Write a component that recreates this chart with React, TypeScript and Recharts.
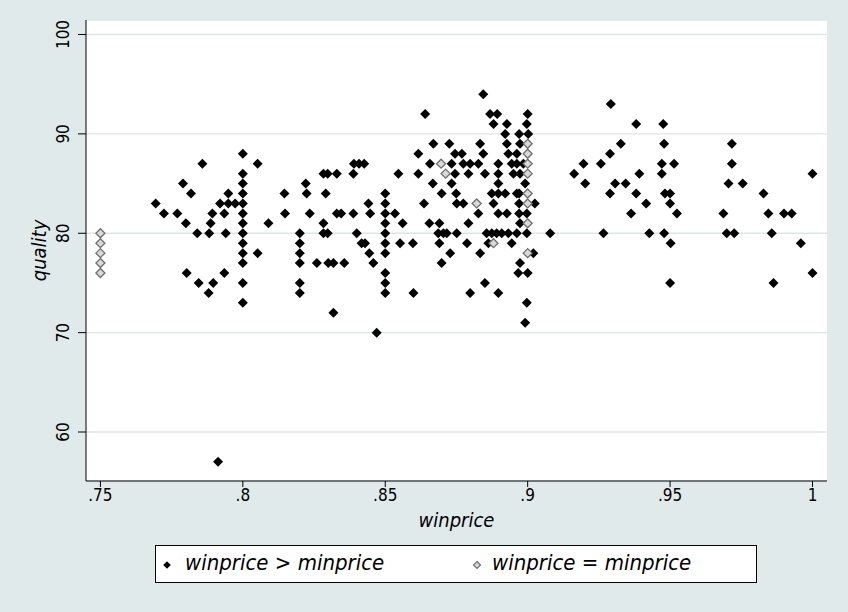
import { ScatterChart, Scatter, XAxis, YAxis, CartesianGrid, Legend } from 'recharts'

const FONT = '"DejaVu Sans Condensed", "DejaVu Sans", sans-serif'
const BG = '#e0eaeb'
const GRID = '#dbe6e9'

const xTicks = [0.75, 0.8, 0.85, 0.9, 0.95, 1]
const yTicks = [60, 70, 80, 90, 100]

// winprice > minprice : [winprice, quality]
const aboveMin: [number, number][] = [
  [0.7858, 87], [0.779, 85], [0.7818, 84], [0.7694, 83], [0.7723, 82], [0.777, 82], [0.78, 81],
  [0.784, 80], [0.7882, 80], [0.7893, 82], [0.7887, 81], [0.7803, 76], [0.7845, 75], [0.7896, 75],
  [0.788, 74], [0.7913, 57],
  [0.792, 83], [0.7949, 83], [0.7973, 83], [0.7949, 84], [0.7935, 82], [0.794, 80], [0.7935, 76],
  [0.8, 88], [0.8, 86], [0.8, 85], [0.8, 84], [0.8, 83], [0.8, 82], [0.8, 81], [0.8, 80], [0.8, 79],
  [0.8, 78], [0.8, 77], [0.8, 75], [0.8, 73],
  [0.8052, 87], [0.8052, 78], [0.809, 81], [0.8146, 84], [0.8148, 82], [0.8221, 85], [0.8224, 84],
  [0.8235, 82], [0.82, 80], [0.82, 79], [0.82, 78], [0.82, 77], [0.82, 75], [0.82, 74],
  [0.826, 77], [0.83, 77], [0.8318, 77], [0.8356, 77], [0.8283, 86], [0.8298, 86], [0.833, 86],
  [0.8291, 84], [0.8283, 81], [0.8283, 80], [0.8298, 80], [0.833, 82], [0.8345, 82], [0.8318, 72],
  [0.8388, 82], [0.8388, 86], [0.839, 87], [0.8408, 87], [0.8426, 87], [0.8441, 83], [0.8447, 82],
  [0.84, 80], [0.8417, 79], [0.8429, 79], [0.8444, 78], [0.8458, 77],
  [0.85, 84], [0.85, 83], [0.85, 82], [0.85, 81], [0.85, 80], [0.85, 79], [0.85, 78], [0.85, 76],
  [0.85, 75], [0.85, 74], [0.847, 70],
  [0.8534, 82], [0.8561, 81], [0.8552, 79], [0.8597, 79], [0.8599, 74], [0.8546, 86], [0.8616, 88],
  [0.8616, 86], [0.864, 92], [0.8636, 83], [0.8655, 81], [0.8669, 89], [0.8657, 87], [0.8667, 85],
  [0.8698, 84], [0.869, 81], [0.8686, 80], [0.8704, 80], [0.8716, 80], [0.8751, 80], [0.869, 79],
  [0.8728, 78], [0.8698, 77], [0.8725, 89], [0.8745, 88], [0.8733, 87], [0.8745, 86], [0.8733, 85],
  [0.8749, 84], [0.8751, 83],
  [0.8844, 94], [0.8868, 92], [0.8893, 92], [0.888, 91], [0.8927, 91], [0.8921, 90], [0.9, 92],
  [0.8997, 91], [0.897, 90], [0.9002, 90], [0.8833, 89], [0.8927, 89], [0.8973, 89],
  [0.8769, 88], [0.8844, 88], [0.8932, 88], [0.8962, 88],
  [0.8774, 87], [0.8798, 87], [0.8827, 87], [0.8897, 87], [0.8944, 87], [0.8962, 87], [0.8985, 87],
  [0.8792, 86], [0.885, 86], [0.8897, 86], [0.895, 86], [0.8973, 86], [0.8897, 85], [0.8991, 85],
  [0.8874, 84], [0.8897, 84], [0.8921, 84], [0.8962, 84], [0.897, 84],
  [0.8774, 83], [0.888, 83], [0.897, 83], [0.9025, 83],
  [0.8827, 82], [0.8897, 82], [0.8927, 82], [0.897, 82], [0.8997, 82], [0.8792, 81], [0.8973, 81],
  [0.8856, 80], [0.8874, 80], [0.8891, 80], [0.8909, 80], [0.8932, 80], [0.8962, 80], [0.8997, 80],
  [0.9079, 80], [0.8787, 79], [0.8862, 79], [0.8944, 79], [0.8833, 78], [0.902, 78],
  [0.8973, 77], [0.8967, 76], [0.9, 76], [0.885, 75], [0.8798, 74], [0.8897, 74], [0.8997, 73],
  [0.8991, 71],
  [0.9292, 93], [0.9381, 91], [0.9476, 91], [0.9327, 89], [0.9479, 89], [0.9289, 88], [0.9196, 87],
  [0.9257, 87], [0.9471, 87], [0.9514, 87], [0.9163, 86], [0.9392, 86], [0.9471, 86], [0.9202, 85],
  [0.9307, 85], [0.9344, 85], [0.9289, 84], [0.9381, 84], [0.9482, 84], [0.95, 84], [0.9416, 83],
  [0.95, 83], [0.9363, 82], [0.9524, 82], [0.9266, 80], [0.9427, 80], [0.9479, 80], [0.9502, 79],
  [0.95, 75],
  [0.9717, 89], [0.9717, 87], [0.9705, 85], [0.9755, 85], [0.9828, 84], [1.0, 86], [0.9687, 82],
  [0.9845, 82], [0.99, 82], [0.9927, 82], [0.9699, 80], [0.9725, 80], [0.9857, 80], [0.9959, 79],
  [1.0, 76], [0.9863, 75],
]

// winprice = minprice
const atMin: [number, number][] = [
  [0.75, 76], [0.75, 77], [0.75, 78], [0.75, 79], [0.75, 80],
  [0.8696, 87], [0.8712, 86], [0.8821, 83], [0.888, 79],
  [0.9, 89], [0.9, 88], [0.9, 87], [0.9, 86], [0.9, 84], [0.9, 83], [0.9, 81], [0.9, 78],
]

const toRows = (pts: [number, number][]) => pts.map(([winprice, quality]) => ({ winprice, quality }))

const diamond = (cx: number, cy: number, r: number) =>
  `${cx},${cy - r} ${cx + r},${cy} ${cx},${cy + r} ${cx - r},${cy}`

const BlackMark = (p: any) => <polygon points={diamond(p.cx, p.cy, 5)} fill="#000" />
const GrayMark = (p: any) => (
  <polygon points={diamond(p.cx, p.cy, 4.5)} fill="#d9d9d9" stroke="#6e6e6e" strokeWidth={1.3} />
)

const fmtX = (v: number) => (v === 1 ? '1' : String(v).replace(/^0/, ''))

const XTick = ({ x, payload }: any) => (
  <text x={x} y={501} textAnchor="middle" fontFamily={FONT} fontSize={17} fill="#000">
    {fmtX(payload.value)}
  </text>
)

const YTick = ({ y, payload }: any) => (
  <text transform={`translate(69,${y}) rotate(-90)`} textAnchor="middle" fontFamily={FONT} fontSize={17} fill="#000">
    {payload.value}
  </text>
)

const LegendBox = () => (
  <div
    style={{
      position: 'relative', boxSizing: 'border-box', width: 602, height: 38, background: '#fff',
      border: '1px solid #000', fontFamily: FONT, fontStyle: 'italic', fontSize: 22, color: '#000',
    }}
  >
    <svg width={602} height={38} style={{ position: 'absolute', left: 0, top: 0 }}>
      <polygon points={diamond(11, 19, 3.8)} fill="#000" />
      <polygon points={diamond(321, 19, 3.5)} fill="#d9d9d9" stroke="#6e6e6e" strokeWidth={1.2} />
    </svg>
    <span style={{ position: 'absolute', left: 29, top: 4, whiteSpace: 'nowrap' }}>winprice &gt; minprice</span>
    <span style={{ position: 'absolute', left: 336, top: 4, whiteSpace: 'nowrap' }}>winprice = minprice</span>
  </div>
)

export default function App() {
  return (
    <div style={{ position: 'absolute', left: 0, top: 0, width: 848, height: 612, background: BG }}>
      <ScatterChart width={848} height={612} margin={{ top: 20, right: 21, bottom: 0, left: 0 }}>
        <CartesianGrid vertical={false} fill="#fff" stroke={GRID} strokeWidth={1.4} />
        <XAxis
          type="number"
          dataKey="winprice"
          domain={[0.74494, 1.00509]}
          ticks={xTicks}
          height={131}
          tickSize={6}
          allowDataOverflow
          axisLine={{ stroke: '#000' }}
          tickLine={{ stroke: '#000' }}
          tick={<XTick />}
          label={() => (
            <text x={456.5} y={527} textAnchor="middle" fontFamily={FONT} fontStyle="italic" fontSize={20} fill="#000">
              winprice
            </text>
          )}
        />
        <YAxis
          type="number"
          dataKey="quality"
          domain={[55.07, 101.46]}
          ticks={yTicks}
          width={86}
          tickSize={8}
          allowDataOverflow
          axisLine={{ stroke: '#000' }}
          tickLine={{ stroke: '#000' }}
          tick={<YTick />}
          label={() => (
            <text transform="translate(46,250.5) rotate(-90)" textAnchor="middle" fontFamily={FONT} fontStyle="italic" fontSize={20} fill="#000">
              quality
            </text>
          )}
        />
        <Legend
          layout="horizontal"
          verticalAlign="middle"
          align="center"
          wrapperStyle={{ left: 155, top: 545, width: 602, height: 38 }}
          content={() => <LegendBox />}
        />
        <Scatter name="winprice > minprice" data={toRows(aboveMin)} shape={BlackMark} isAnimationActive={false} />
        <Scatter name="winprice = minprice" data={toRows(atMin)} shape={GrayMark} isAnimationActive={false} />
      </ScatterChart>
    </div>
  )
}
